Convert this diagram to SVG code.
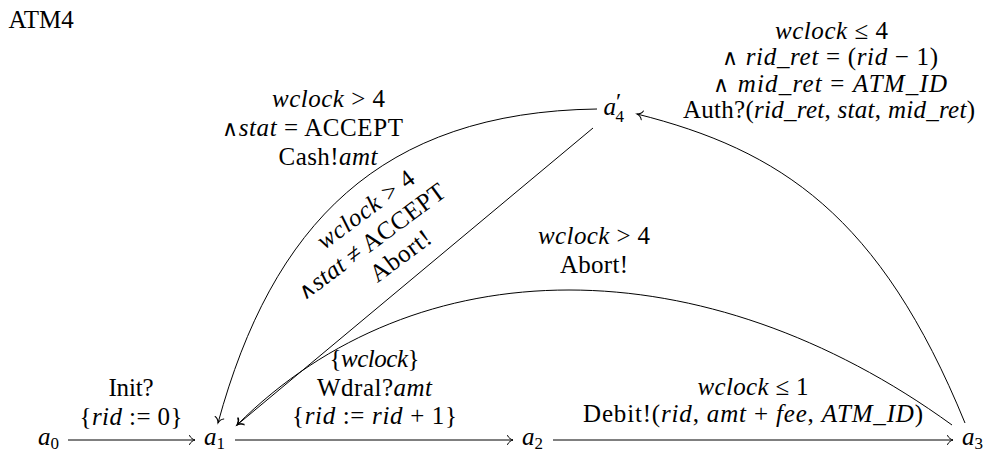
<svg xmlns="http://www.w3.org/2000/svg" width="983" height="452" viewBox="0 0 983 452">
<style>
.t { font-family: "Liberation Serif", "DejaVu Serif", serif; font-size: 25px; fill: #000; }
.c { text-anchor: middle; }
.i { font-style: italic; }
.and { font-family: "DejaVu Sans", "DejaVu Serif", sans-serif; font-weight: 200; font-size: 22px; }
.sub { font-size: 17px; font-style: normal; }
.e { fill: none; stroke: #000; stroke-width: 1; marker-end: url(#arr); }
</style>
<defs>
<marker id="arr" markerUnits="userSpaceOnUse" markerWidth="12" markerHeight="12" refX="0" refY="0" orient="auto" overflow="visible">
<path d="M -5.5,-4.5 C -4.5,-1.8 -1.5,-0.4 0,0 C -1.5,0.4 -4.5,1.8 -5.5,4.5" fill="none" stroke="#000" stroke-width="1" stroke-linecap="round"/>
</marker>
</defs>
<rect width="983" height="452" fill="#fff"/>
<text class="t" x="8.5" y="27.5">ATM4</text>

<g id="connectors">
<path id="e-a0-a1" class="e" d="M 68 440 L 195 440"/>
<path id="e-a1-a2" class="e" d="M 235 440 L 513 440"/>
<path id="e-a2-a3" class="e" d="M 553 440 L 953 440"/>
<path id="e-a3-a4" class="e" d="M 965 423 C 880 215, 780 150, 637 114"/>
<path id="e-a4-a1-cash" class="e" d="M 597 109 C 380 112, 272 225, 218 423"/>
<path id="e-a4-a1-abort" class="e" d="M 593 128 L 237 425"/>
<path id="e-a3-a1-abort" class="e" d="M 952 425 C 704 245, 417 245, 237 425"/>
</g>

<g id="labels">
<g id="lbl-a4-a1-cash">
<text class="t c" x="328.5" y="107" textLength="113" lengthAdjust="spacing"><tspan class="i">wclock</tspan> &gt; 4</text>
<text class="t c" x="312.5" y="136" textLength="181" lengthAdjust="spacing"><tspan class="and">∧</tspan><tspan class="i">stat</tspan> = ACCEPT</text>
<text class="t c" x="328" y="165" textLength="99" lengthAdjust="spacing">Cash!<tspan class="i">amt</tspan></text>
</g>
<g id="lbl-a4-a1-abort" transform="translate(370,245) rotate(-36.5)">
<text class="t c" x="17.5" y="-23" textLength="115" lengthAdjust="spacing"><tspan class="i">wclock</tspan> &gt; 4</text>
<text class="t c" x="3" y="6" textLength="178" lengthAdjust="spacing"><tspan class="and">∧</tspan><tspan class="i">stat</tspan> ≠ ACCEPT</text>
<text class="t c" x="18" y="35" textLength="70" lengthAdjust="spacing">Abort!</text>
</g>
<g id="lbl-a3-a4">
<text class="t c" x="831.5" y="39" textLength="113" lengthAdjust="spacing"><tspan class="i">wclock</tspan> ≤ 4</text>
<text class="t c" x="830" y="65" textLength="216" lengthAdjust="spacing"><tspan class="and">∧</tspan> <tspan class="i">rid_ret</tspan> = (<tspan class="i">rid</tspan> − 1)</text>
<text class="t c" x="830" y="92" textLength="234" lengthAdjust="spacing"><tspan class="and">∧</tspan> <tspan class="i">mid_ret</tspan> = <tspan class="i">ATM_ID</tspan></text>
<text class="t c" x="829" y="118" textLength="292" lengthAdjust="spacing">Auth?(<tspan class="i">rid_ret</tspan>, <tspan class="i">stat</tspan>, <tspan class="i">mid_ret</tspan>)</text>
</g>
<g id="lbl-a3-a1-abort">
<text class="t c" x="594" y="244" textLength="112" lengthAdjust="spacing"><tspan class="i">wclock</tspan> &gt; 4</text>
<text class="t c" x="594" y="273" textLength="68" lengthAdjust="spacing">Abort!</text>
</g>
<g id="lbl-a0-a1">
<text class="t c" x="131" y="395.5" textLength="45" lengthAdjust="spacing">Init?</text>
<text class="t c" x="131" y="425" textLength="103" lengthAdjust="spacing">{<tspan class="i">rid</tspan> := 0}</text>
</g>
<g id="lbl-a1-a2">
<text class="t c" x="374.5" y="367" textLength="90" lengthAdjust="spacing">{<tspan class="i">wclock</tspan>}</text>
<text class="t c" x="374.5" y="396" textLength="115" lengthAdjust="spacing">Wdral?<tspan class="i">amt</tspan></text>
<text class="t c" x="374.5" y="424" textLength="165" lengthAdjust="spacing">{<tspan class="i">rid</tspan> := <tspan class="i">rid</tspan> + 1}</text>
</g>
<g id="lbl-a2-a3">
<text class="t c" x="753" y="395" textLength="111" lengthAdjust="spacing"><tspan class="i">wclock</tspan> ≤ 1</text>
<text class="t c" x="753" y="422" textLength="340" lengthAdjust="spacing">Debit!(<tspan class="i">rid</tspan>, <tspan class="i">amt</tspan> + <tspan class="i">fee</tspan>, <tspan class="i">ATM_ID</tspan>)</text>
</g>
</g>

<g id="a0"><text class="t i" x="38" y="445">a<tspan class="sub" dy="3.5">0</tspan></text></g>
<g id="a1"><text class="t i" x="204" y="445">a<tspan class="sub" dy="3.5">1</tspan></text></g>
<g id="a2"><text class="t i" x="522" y="445">a<tspan class="sub" dy="3.5">2</tspan></text></g>
<g id="a3"><text class="t i" x="962" y="445">a<tspan class="sub" dy="3.5">3</tspan></text></g>
<g id="a4p">
<text class="t i" x="603.5" y="115">a<tspan font-size="24" font-style="normal" dy="-6">′</tspan><tspan class="sub" x="615.5" dy="13">4</tspan></text>
</g>
</svg>
